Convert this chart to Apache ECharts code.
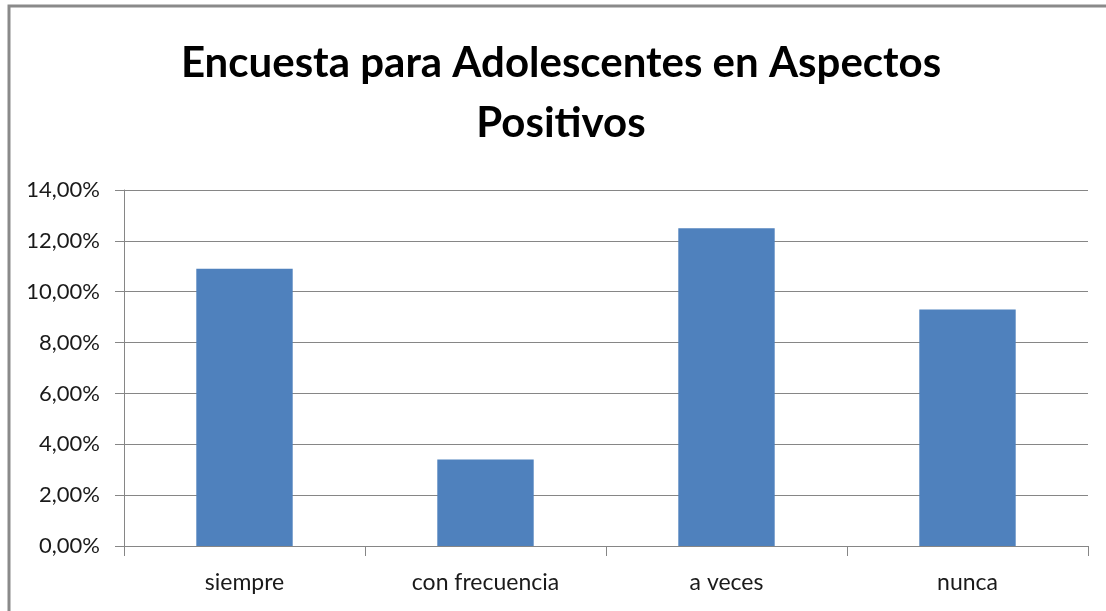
<!DOCTYPE html>
<html>
<head>
<meta charset="utf-8">
<script src="https://cdn.jsdelivr.net/npm/echarts@6/dist/echarts.min.js"></script>
<style>
  html, body { margin: 0; padding: 0; background: #fff; }
  #chart { width: 1106px; height: 611px; }
</style>
</head>
<body>
<div id="chart"></div>
<script>
// categorias y valores (porcentaje)
var categories = ['siempre', 'con frecuencia', 'a veces', 'nunca'];
var values = [10.9, 3.4, 12.5, 9.3];
var titleLines = ['Encuesta para Adolescentes en Aspectos', 'Positivos'];

var myChart = echarts.init(document.getElementById('chart'));

var option = {
    animation: false,
    title: {
        text: titleLines.join('\n'),
        left: 556,
        top: 28,
        textAlign: 'center',
        textStyle: {
            fontFamily: 'Lato',
            fontWeight: 'bold',
            fontSize: 42,
            lineHeight: 60,
            color: '#000'
        }
    },
    graphic: [{
        type: 'polyline',
        shape: { points: [[9, 611], [9, 6], [1106, 6]] },
        style: { stroke: '#8a8a8a', lineWidth: 3, fill: null }
    }],
    grid: {
        left: 124,
        right: 18,
        top: 190,
        bottom: 65
    },
    xAxis: {
        type: 'category',
        data: categories,
        axisLine: { lineStyle: { color: '#868686', width: 1 } },
        axisTick: { show: true, length: 10, lineStyle: { color: '#868686' } },
        axisLabel: {
            fontFamily: 'Lato',
            fontSize: 23,
            color: '#1a1a1a',
            margin: 25
        }
    },
    yAxis: {
        type: 'value',
        min: 0,
        max: 14,
        interval: 2,
        axisLine: { show: true, lineStyle: { color: '#868686', width: 1 } },
        axisTick: { show: true, length: 9, lineStyle: { color: '#868686' } },
        splitLine: { lineStyle: { color: '#868686', width: 1 } },
        axisLabel: {
            fontFamily: 'Lato',
            fontSize: 22,
            color: '#1a1a1a',
            margin: 24,
            formatter: function (v) {
                return v.toFixed(2).replace('.', ',') + '%';
            }
        }
    },
    series: [{
        type: 'bar',
        data: values,
        barCategoryGap: '60%',
        itemStyle: { color: '#4F81BD' }
    }]
};

myChart.setOption(option);
</script>
</body>
</html>
